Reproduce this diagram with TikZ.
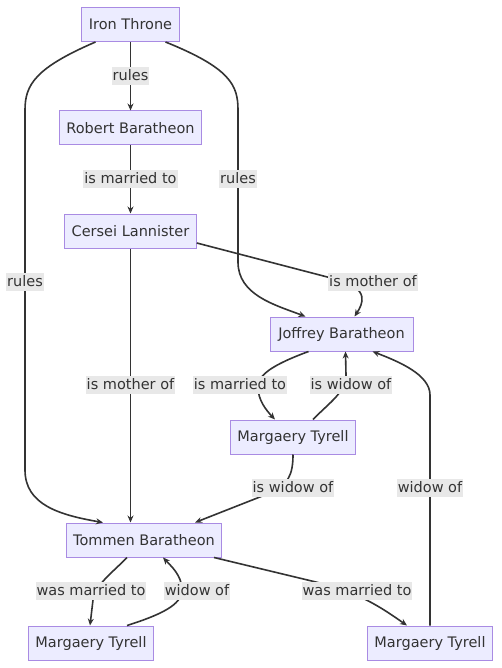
\documentclass[tikz,border=0pt]{standalone}
\usepackage{fontspec}
\setmainfont{DejaVu Sans}
\usetikzlibrary{arrows.meta}
\definecolor{nfill}{HTML}{ECECFF}
\definecolor{ndraw}{HTML}{A98BE3}
\definecolor{ink}{HTML}{333333}
\definecolor{lbl}{HTML}{E8E8E8}
\begin{document}
\begin{tikzpicture}[x=1pt,y=-1pt,
  box/.style={draw=ndraw,fill=nfill,line width=1pt,minimum height=34pt,inner xsep=7pt,inner ysep=0pt,text=ink,font=\fontsize{14.5}{17}\selectfont},
  lab/.style={fill=lbl,inner xsep=1pt,inner ysep=0pt,text height=13.5pt,text depth=5pt,text=ink,font=\fontsize{14.5}{17}\selectfont},
  edge/.style={draw=ink,line width=1.6pt,-{Stealth[length=7pt,width=6pt]}}]
\useasboundingbox (0,0) rectangle (501,668);
\fill[white] (0,0) rectangle (501,668);
% nodes
\node[box,minimum width=97pt] (it) at (130.5,24.5) {Iron Throne};
\node[box,minimum width=141pt] (rb) at (130.5,128) {Robert Baratheon};
\node[box,minimum width=131pt] (cl) at (130.5,231) {Cersei Lannister};
\node[box,minimum width=143pt] (jb) at (341.5,334) {Joffrey Baratheon};
\node[box,minimum width=124pt] (mm) at (293,437) {Margaery Tyrell};
\node[box,minimum width=152pt] (tb) at (144,540) {Tommen Baratheon};
\node[box,minimum width=124pt] (m1) at (91,643) {Margaery Tyrell};
\node[box,minimum width=124pt] (m2) at (430,643) {Margaery Tyrell};
% edges
\draw[edge] (it.south) -- (rb.north);
\draw[edge] ([xshift=35pt]it.south) .. controls (230,68) and (238,85) .. (238,110) -- (238,262) .. controls (238,295) and (275,305) .. ([xshift=-36pt]jb.north);
\draw[edge] ([xshift=-35pt]it.south) .. controls (35,68) and (25,85) .. (25,110) -- (25,470) .. controls (25,505) and (60,515) .. ([xshift=-41pt]tb.north);
\draw[edge] (rb.south) -- (cl.north);
\draw[edge] ([yshift=-12pt]cl.east) -- (335,279) .. controls (372,288) and (362,305) .. ([xshift=13pt]jb.north);
\draw[edge] (cl.south) -- ([xshift=-13.5pt]tb.north);
\draw[edge] ([xshift=-33pt]jb.south) .. controls (272,365) and (258,375) .. (258,387) .. controls (258,400) and (266,410) .. ([xshift=-18pt]mm.north);
\draw[edge] ([xshift=20pt]mm.north) .. controls (330,402) and (346,392) .. (346,375) -- ([xshift=4pt]jb.south);
\draw[edge] (mm.south) .. controls (293,475) and (288,485) .. (270,493) -- ([xshift=51pt]tb.north);
\draw[edge] (m2.north) -- (430,395) .. controls (430,375) and (400,362) .. ([xshift=31pt]jb.south);
\draw[edge] ([xshift=-17pt]tb.south) .. controls (112,573) and (95,585) .. (93,600) -- ([xshift=-1pt]m1.north);
\draw[edge] ([xshift=36pt]m1.north) .. controls (160,615) and (182,605) .. (182,590) .. controls (182,575) and (170,565) .. ([xshift=19pt]tb.south);
\draw[edge] ([xshift=70pt]tb.south) -- (320,583) .. controls (360,593) and (382,608) .. ([xshift=-23pt]m2.north);
% labels
\node[lab] (l1) at (130.5,76) {rules};
\node[lab] (l2) at (130.5,179) {is married to};
\node[lab] (l3) at (238,179) {rules};
\node[lab] (l4) at (25,282) {rules};
\node[lab] (l5) at (373,282) {is mother of};
\node[lab] (l6) at (130.5,385) {is mother of};
\node[lab] (l7) at (240,385) {is married to};
\node[lab] (l8) at (351,385) {is widow of};
\node[lab] (l9) at (293,488) {is widow of};
\node[lab] (l10) at (430,488) {widow of};
\node[lab] (l11) at (91,591) {was married to};
\node[lab] (l12) at (197,591) {widow of};
\node[lab] (l13) at (357,591) {was married to};
\end{tikzpicture}
\end{document}
